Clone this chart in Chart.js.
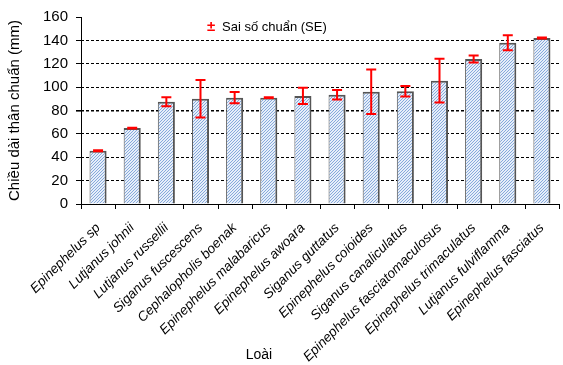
<!DOCTYPE html>
<html>
<head>
<meta charset="utf-8">
<script src="https://cdn.jsdelivr.net/npm/chart.js@4"></script>
<style>
  html, body { margin: 0; padding: 0; background: #fff; }
  #wrap { width: 563px; height: 365px; }
</style>
</head>
<body>
<div id="wrap"><canvas id="chart"></canvas></div>
<script>
// species (x categories)
var species = ['Epinephelus sp', 'Lutjanus johnii', 'Lutjanus russellii', 'Siganus fuscescens',
	'Cephalopholis boenak', 'Epinephelus malabaricus', 'Epinephelus awoara', 'Siganus guttatus',
	'Epinephelus coioides', 'Siganus canaliculatus', 'Epinephelus fasciatomaculosus',
	'Epinephelus trimaculatus', 'Lutjanus fulviflamma', 'Epinephelus fasciatus'];
// mean standard length (mm)
var meanLength = [45.5, 65, 87.5, 90, 91, 91, 92.5, 93.5, 96, 96.5, 105.5, 124, 138, 142];
// standard error (mm)
var stdError = [0.4, 0.3, 3.8, 16, 4.8, 0.4, 7, 4, 19, 4.5, 18.7, 3, 6.4, 0.4];
var yTicks = [0, 20, 40, 60, 80, 100, 120, 140, 160];

var FONT = 'Liberation Sans, Arial, sans-serif';

// hatched blue fill like the original
function makePattern() {
	var c = document.createElement('canvas');
	c.width = 3; c.height = 3;
	var g = c.getContext('2d');
	g.fillStyle = '#e6eef9';
	g.fillRect(0, 0, 3, 3);
	g.fillStyle = '#86a9db';
	g.fillRect(2, 0, 1, 1);
	g.fillRect(1, 1, 1, 1);
	g.fillRect(0, 2, 1, 1);
	return g.createPattern(c, 'repeat');
}

var errorBars = {
	id: 'errorBars',
	afterDatasetsDraw: function(chart) {
		var ctx = chart.ctx, xs = chart.scales.x, ys = chart.scales.y;
		ctx.save();
		ctx.strokeStyle = '#ff0000';
		ctx.lineWidth = 2;
		for (var i = 0; i < meanLength.length; i++) {
			var x = xs.getPixelForValue(i);
			var hi = ys.getPixelForValue(meanLength[i] + stdError[i]);
			var lo = ys.getPixelForValue(meanLength[i] - stdError[i]);
			ctx.beginPath();
			ctx.moveTo(x, hi); ctx.lineTo(x, lo);
			ctx.moveTo(x - 5, hi); ctx.lineTo(x + 5, hi);
			ctx.moveTo(x - 5, lo); ctx.lineTo(x + 5, lo);
			ctx.stroke();
		}
		ctx.restore();
	}
};

// solid axis lines + x tick marks (the grid lines are dashed)
var axisLines = {
	id: 'axisLines',
	afterDraw: function(chart) {
		var ctx = chart.ctx, a = chart.chartArea;
		ctx.save();
		ctx.strokeStyle = '#000';
		ctx.lineWidth = 1;
		ctx.beginPath();
		ctx.moveTo(a.left + 0.5, a.top);
		ctx.lineTo(a.left + 0.5, a.bottom + 0.5);
		ctx.lineTo(a.right, a.bottom + 0.5);
		for (var i = 0; i <= species.length; i++) {
			var x = Math.round(a.left + (a.right - a.left) * i / species.length) + 0.5;
			ctx.moveTo(x, a.bottom);
			ctx.lineTo(x, a.bottom + 5);
		}
		ctx.stroke();
		ctx.restore();
	}
};

var textLabels = {
	id: 'textLabels',
	afterDraw: function(chart) {
		var ctx = chart.ctx;
		ctx.save();
		ctx.textBaseline = 'middle';
		ctx.font = 'bold 15px ' + FONT;
		ctx.fillStyle = '#ff0000';
		ctx.fillText('±', 207, 27);
		ctx.font = '13px ' + FONT;
		ctx.fillStyle = '#000';
		ctx.fillText('Sai số chuẩn (SE)', 222, 27);
		ctx.font = '14px ' + FONT;
		ctx.textAlign = 'center';
		ctx.fillText('Loài', 259, 355);
		ctx.restore();
	}
};

var ctx = document.getElementById('chart').getContext('2d');
var chart = new Chart(ctx, {
	type: 'bar',
	data: {
		labels: species,
		datasets: [{
			label: 'Chiều dài thân chuẩn',
			data: meanLength,
			backgroundColor: makePattern(),
			borderColor: '#555555',
			borderWidth: { top: 2, left: 1, right: 2, bottom: 0 },
			barPercentage: 0.5,
			categoryPercentage: 1
		}]
	},
	options: {
		responsive: true,
		maintainAspectRatio: false,
		animation: false,
		layout: { padding: { top: 17, right: 4, left: 0, bottom: 0 } },
		plugins: {
			legend: { display: false },
			tooltip: { enabled: false }
		},
		scales: {
			x: {
				grid: { display: false },
				border: { display: false },
				ticks: {
					color: '#000',
					font: { family: FONT, size: 13.5, style: 'italic' },
					minRotation: 45, maxRotation: 45,
					autoSkip: false,
					padding: 8
				},
				afterFit: function(s) { s.height = 161; }
			},
			y: {
				min: 0, max: 160,
				afterBuildTicks: function(s) { s.ticks = yTicks.map(function(v) { return { value: v }; }); },
				grid: {
					color: function(c) { return (c.tick.value === 0 || c.tick.value === 160) ? 'rgba(0,0,0,0)' : '#000'; },
					lineWidth: function(c) { return c.tick.value === 80 ? 1.6 : 1; },
					tickColor: '#000', tickLength: 5, drawTicks: true
				},
				border: { display: false, dash: [3, 2] },
				ticks: {
					color: '#000',
					font: { family: FONT, size: 15 },
					padding: 8
				},
				title: {
					display: true, text: 'Chiều dài thân chuẩn (mm)', color: '#000',
					font: { family: FONT, size: 15 },
					padding: { top: 6, bottom: 0 }
				},
				afterFit: function(s) { s.width = 81; }
			}
		}
	},
	plugins: [errorBars, axisLines, textLabels]
});
</script>
</body>
</html>
